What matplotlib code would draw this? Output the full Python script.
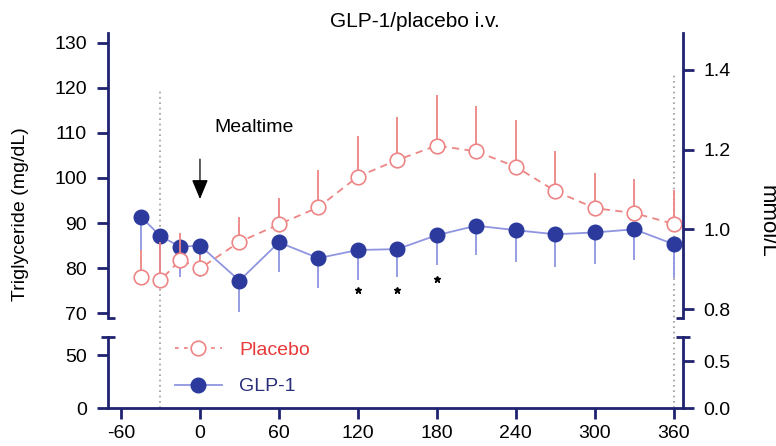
import matplotlib
matplotlib.use("Agg")
import matplotlib.pyplot as plt
from matplotlib.lines import Line2D

plt.rcParams['font.family'] = ['Liberation Sans', 'DejaVu Sans']
plt.rcParams['axes.unicode_minus'] = False

# time (min) relative to mealtime
minutes = [-45, -30, -15, 0, 30, 60, 90, 120, 150, 180, 210, 240, 270, 300, 330, 360]

# triglyceride, mg/dL
glp1_mean = [91.4, 87.1, 84.7, 85.0, 77.2, 85.7, 82.2, 84.0, 84.2, 87.3, 89.4, 88.4, 87.5, 87.9, 88.6, 85.3]
glp1_err = [7.4, 8.2, 6.8, 7.0, 7.0, 6.5, 6.7, 6.7, 6.1, 6.6, 6.5, 7.0, 7.2, 6.9, 6.8, 7.5]
placebo_mean = [78.1, 77.3, 81.8, 79.9, 85.8, 89.7, 93.5, 100.3, 104.0, 107.2, 105.9, 102.5, 97.1, 93.3, 92.2, 89.8]
placebo_err = [6.0, 8.5, 5.9, 3.0, 5.6, 5.8, 8.3, 9.0, 9.6, 11.2, 10.1, 10.4, 9.0, 7.9, 7.6, 7.5]

# significance stars (GLP-1 vs placebo)
star_minutes = [120, 150, 180]
star_y = [75.1, 75.1, 77.6]

xticks = [-60, 0, 60, 120, 180, 240, 300, 360]
mgdl_per_mmol = 88.57

navy = '#1f2370'
dot_blue = '#2b3a9c'
light_blue = '#8f95e0'
salmon = '#ee8585'
fs = 14

fig = plt.figure(figsize=(7.76, 4.46), dpi=100)
ax_top = fig.add_axes([0.139, 0.287, 0.741, 0.639])
ax_low = fig.add_axes([0.139, 0.0852, 0.741, 0.1592], sharex=ax_top)
ax_low.patch.set_visible(False)

top_lim = (68.9, 132.2)
low_lim = (0, 67)
ax_top.set_ylim(*top_lim)
ax_low.set_ylim(*low_lim)
ax_top.set_xlim(-70, 367)

for ax in (ax_top, ax_low):
    # GLP-1
    ax.errorbar(minutes, glp1_mean, yerr=[glp1_err, [0] * len(glp1_err)], fmt='none',
                ecolor=light_blue, elinewidth=1.3, capsize=0, zorder=2)
    ax.plot(minutes, glp1_mean, '-', color=light_blue, lw=1.3, zorder=2)
    ax.plot(minutes, glp1_mean, 'o', ms=10.5, color=dot_blue, zorder=3)
    # placebo
    ax.errorbar(minutes, placebo_mean, yerr=[[0] * len(placebo_err), placebo_err], fmt='none',
                ecolor=salmon, elinewidth=1.3, capsize=0, zorder=4)
    ax.plot(minutes, placebo_mean, '--', color=salmon, lw=1.3, dashes=(4, 3), zorder=4)
    ax.plot(minutes, placebo_mean, 'o', ms=10.5, mfc='white', mec=salmon, mew=1.2, zorder=5)

ax_top.plot(star_minutes, star_y, '*', color='black', ms=5, ls='none')

# dotted vertical lines reaching from the bottom axis line up into the top panel
bottom_fig = 0.0852
y_bottom = ax_top.transData.inverted().transform(fig.transFigure.transform((0, bottom_fig)))[1]
for xv, ytop in [(-30, 120.0), (360, 122.9)]:
    ax_top.vlines(xv, y_bottom, ytop, colors='#9a9a9a', linestyles=(0, (1, 2.2)), lw=1.2,
                  clip_on=False, zorder=1)

# mealtime arrow
ax_top.annotate('', xy=(0, 94.7), xytext=(0, 104.8),
                arrowprops=dict(arrowstyle='-|>,head_length=1.2,head_width=0.5', color='black', lw=0.9))
ax_top.text(11, 111.3, 'Mealtime', fontsize=fs, va='center', ha='left')

# spines and ticks
for ax in (ax_top, ax_low):
    ax.spines['top'].set_visible(False)
    ax.spines['right'].set_visible(False)
    ax.spines['left'].set_color(navy)
    ax.spines['left'].set_linewidth(2.0)
    ax.tick_params(axis='y', colors=navy, labelcolor='black', length=8, width=2.0, labelsize=fs, pad=7)
ax_top.spines['bottom'].set_visible(False)
ax_top.tick_params(axis='x', bottom=False, labelbottom=False)
ax_low.spines['bottom'].set_color(navy)
ax_low.spines['bottom'].set_linewidth(2.0)
ax_low.set_xticks(xticks)
ax_low.tick_params(axis='x', colors=navy, labelcolor='black', length=8, width=2.0, labelsize=fs, pad=4)

ax_top.set_yticks([70, 80, 90, 100, 110, 120, 130])
ax_low.set_yticks([0, 50])

# right axes in mmol/L
rt_top = ax_top.twinx()
rt_low = ax_low.twinx()
rt_top.set_ylim(top_lim[0] / mgdl_per_mmol, top_lim[1] / mgdl_per_mmol)
rt_low.set_ylim(low_lim[0] / mgdl_per_mmol, low_lim[1] / mgdl_per_mmol)
rt_top.set_yticks([0.8, 1.0, 1.2, 1.4])
rt_low.set_yticks([0.0, 0.5])
for rt in (rt_top, rt_low):
    for s in ('top', 'bottom', 'left'):
        rt.spines[s].set_visible(False)
    rt.spines['right'].set_color(navy)
    rt.spines['right'].set_linewidth(2.0)
    rt.tick_params(axis='y', colors=navy, labelcolor='black', length=8, width=2.0, labelsize=fs, pad=7)
    rt.yaxis.set_major_formatter(plt.FormatStrFormatter('%.1f'))

# caps at the axis break
ax_top.set_yticks([top_lim[0]], minor=True)
rt_top.set_yticks([top_lim[0] / mgdl_per_mmol], minor=True)
ax_low.set_yticks([low_lim[1]], minor=True)
rt_low.set_yticks([low_lim[1] / mgdl_per_mmol], minor=True)
for ax in (ax_top, rt_top):
    ax.tick_params(axis='y', which='minor', direction='in', length=5, width=2.0, colors=navy)
for ax in (ax_low, rt_low):
    ax.tick_params(axis='y', which='minor', direction='inout', length=10, width=2.0, colors=navy)

# legend
handles = [
    Line2D([], [], color=salmon, ls='--', dashes=(2, 3), lw=1.3, marker='o', ms=10.5,
           mfc='white', mec=salmon, mew=1.2),
    Line2D([], [], color=light_blue, lw=1.3, marker='o', ms=10.5, mfc=dot_blue, mec=dot_blue),
]
leg = fig.legend(handles, ['Placebo', 'GLP-1'], loc='center left', bbox_to_anchor=(0.2255, 0.1737),
                 frameon=False, fontsize=fs, handlelength=2.4, handletextpad=0.9, labelspacing=0.95,
                 borderpad=0, borderaxespad=0)
leg.get_texts()[0].set_color('#e83a3a')
leg.get_texts()[1].set_color('#2a2f7a')

fig.text(0.534, 0.951, 'GLP-1/placebo i.v.', fontsize=15, ha='center', va='center')
fig.text(0.026, 0.52, 'Triglyceride (mg/dL)', fontsize=fs, rotation=90, ha='center', va='center')
fig.text(0.988, 0.504, 'mmol/L', fontsize=16, rotation=270, ha='center', va='center')

fig.savefig('out.png', dpi=100)
